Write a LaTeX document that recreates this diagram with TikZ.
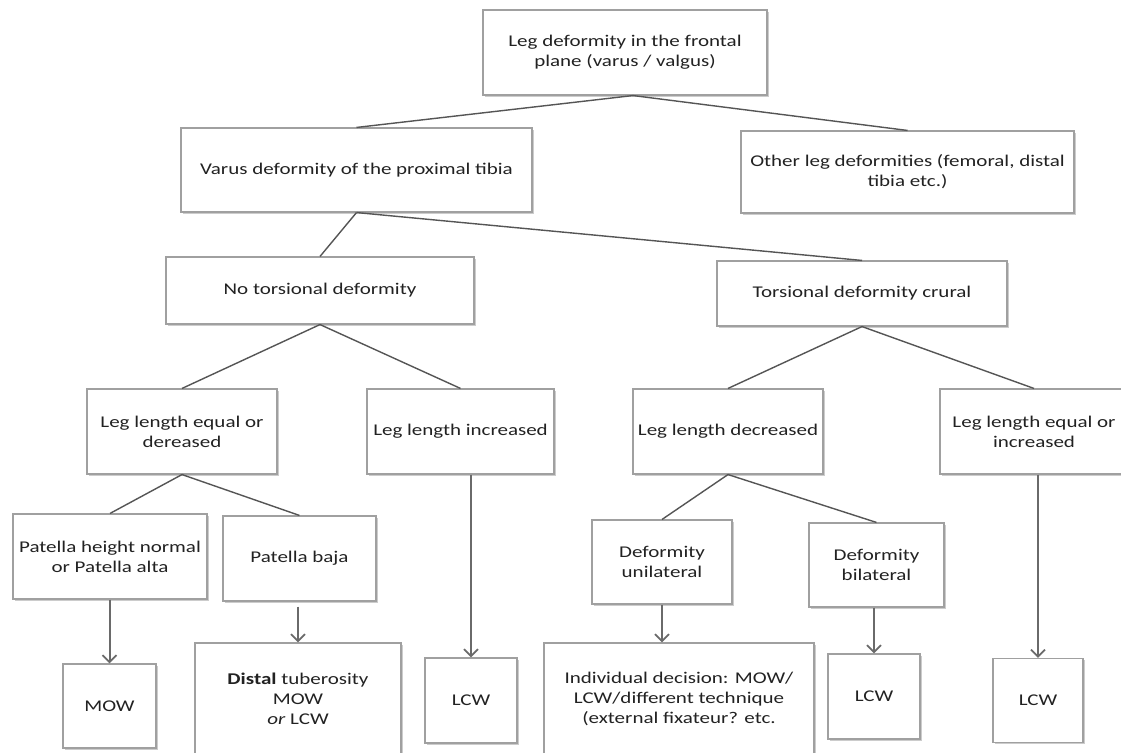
\documentclass[tikz,border=0pt]{standalone}
\usepackage{fontspec}
\setmainfont{Carlito}[FakeStretch=1.28]
\usetikzlibrary{arrows.meta,shadows}
\definecolor{boxcol}{HTML}{A0A0A0}
\definecolor{conncol}{HTML}{555555}
\definecolor{arrcol}{HTML}{6A6A6A}
\definecolor{txtcol}{HTML}{222222}
\begin{document}
\begin{tikzpicture}[x=1pt,y=-1pt,
  box/.style={draw=boxcol, line width=1.1pt, fill=white, inner sep=0pt, align=center,
    text=txtcol, font=\fontsize{16.4}{20}\selectfont,
    drop shadow={shadow xshift=1.6pt, shadow yshift=-1.6pt, fill=black, opacity=0.2}},
  connline/.style={draw=conncol, line width=1.4pt},
  downarrow/.style={draw=arrcol, line width=2pt,
    -{Straight Barb[length=7pt,width=14pt,line width=1.8pt]}}]
\useasboundingbox (0,0) rectangle (1121,752);
\fill[white] (0,0) rectangle (1121,752);

% level 0
\node[box, minimum width=284pt, minimum height=85pt] (top) at (625,52.5)
  {Leg deformity in the frontal\\plane (varus / valgus)};
% level 1
\node[box, minimum width=351pt, minimum height=84pt] (varus) at (356.5,170)
  {Varus deformity of the proximal tibia};
\node[box, minimum width=333pt, minimum height=82pt] (other) at (907.5,172)
  {Other leg deformities (femoral, distal\\tibia etc.)};
% level 2
\node[box, minimum width=308pt, minimum height=67pt] (notors) at (320,290.5)
  {No torsional deformity};
\node[box, minimum width=290pt, minimum height=65pt] (tors) at (862,293.5)
  {Torsional deformity crural};
% level 3
\node[box, minimum width=190pt, minimum height=85pt] (lleqd) at (182,431.5)
  {Leg length equal or\\dereased};
\node[box, minimum width=187pt, minimum height=85pt] (llinc) at (460.5,431.5)
  {Leg length increased};
\node[box, minimum width=190pt, minimum height=85pt] (lldec) at (728,431.5)
  {Leg length decreased};
\node[box, minimum width=188pt, minimum height=85pt] (lleqi) at (1034,431.5)
  {Leg length equal or\\increased};
% level 4
\node[box, minimum width=194pt, minimum height=85pt] (phn) at (110,556.5)
  {Patella height normal\\or Patella alta};
\node[box, minimum width=153pt, minimum height=85pt] (pbaja) at (299.5,558.5)
  {Patella baja};
\node[box, minimum width=140pt, minimum height=84pt] (unil) at (662,562)
  {Deformity\\unilateral};
\node[box, minimum width=135pt, minimum height=84pt] (bil) at (876.5,565)
  {Deformity\\bilateral};
% level 5
\node[box, minimum width=93pt, minimum height=84pt] (mow) at (109.5,706)
  {MOW};
\node[box, minimum width=206pt, minimum height=112pt] (distal) at (298,699)
  {\textbf{Distal} tuberosity\\MOW\\\textit{or} LCW};
\node[box, minimum width=92pt, minimum height=85pt] (lcwa) at (471,700.5)
  {LCW};
\node[box, minimum width=270pt, minimum height=112pt] (indiv) at (679,699)
  {Individual decision: MOW/\\LCW/different technique\\(external fixateur? etc.};
\node[box, minimum width=92pt, minimum height=85pt] (lcwb) at (874,696.5)
  {LCW};
\node[box, minimum width=90pt, minimum height=84pt] (lcwc) at (1038,700.5)
  {LCW};

% connectors
\coordinate (topapex) at ([xshift=8pt]top.south);
\draw[connline] (topapex) -- (varus.north);
\draw[connline] (topapex) -- (other.north);
\draw[connline] (varus.south) -- (notors.north);
\draw[connline] (varus.south) -- (tors.north);
\draw[connline] (notors.south) -- (lleqd.north);
\draw[connline] (notors.south) -- (llinc.north);
\draw[connline] (tors.south) -- (lldec.north);
\draw[connline] (tors.south) -- (lleqi.north);
\draw[connline] (lleqd.south) -- (phn.north);
\draw[connline] (lleqd.south) -- (pbaja.north);
\draw[connline] (lldec.south) -- (unil.north);
\draw[connline] (lldec.south) -- (bil.north);

% arrows
\draw[downarrow] (phn.south -| mow.north) -- (mow.north);
\draw[downarrow, shorten <=5pt] (pbaja.south -| distal.north) -- (distal.north);
\draw[downarrow] (llinc.south -| lcwa.north) -- (lcwa.north);
\draw[downarrow] (unil.south) -- (unil.south |- indiv.north);
\draw[downarrow] (bil.south -| lcwb.north) -- (lcwb.north);
\draw[downarrow] (lleqi.south -| lcwc.north) -- (lcwc.north);
\end{tikzpicture}
\end{document}
